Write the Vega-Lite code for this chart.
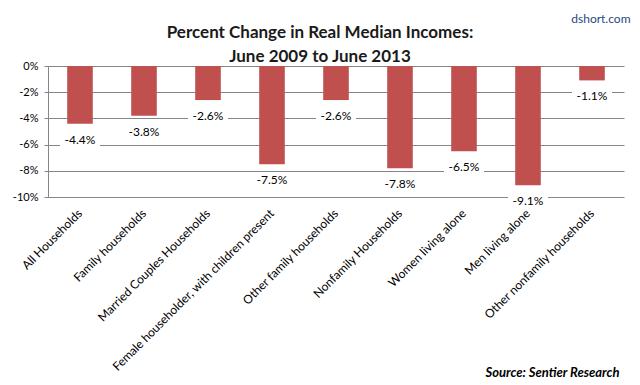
{
  "$schema": "https://vega.github.io/schema/vega-lite/v6.json",
  "width": 576,
  "height": 131,
  "autosize": {"type": "none"},
  "padding": {"left": 48, "top": 66, "right": 16, "bottom": 188},
  "background": "white",
  "config": {
    "font": "Lato",
    "view": {"stroke": null},
    "locale": {"number": {"decimal": ".", "thousands": ",", "grouping": [3], "currency": ["$", ""], "minus": "-"}}
  },
  "title": {
    "text": ["Percent Change in Real Median Incomes:", "June 2009 to June 2013"],
    "font": "Lato",
    "fontSize": 17,
    "fontWeight": "bold",
    "color": "#1a1a1a",
    "lineHeight": 24,
    "anchor": "middle",
    "dx": -16,
    "dy": 60,
    "offset": 6
  },
  "data": {
    "values": [
      {"category": "All Households", "change": -0.044},
      {"category": "Family households", "change": -0.038},
      {"category": "Married Couples Households", "change": -0.026},
      {"category": "Female householder, with children present", "change": -0.075},
      {"category": "Other family households", "change": -0.026},
      {"category": "Nonfamily Households", "change": -0.078},
      {"category": "Women living alone", "change": -0.065},
      {"category": "Men living alone", "change": -0.091},
      {"category": "Other nonfamily households", "change": -0.011}
    ]
  },
  "encoding": {
    "x": {
      "field": "category",
      "type": "nominal",
      "sort": null,
      "scale": {"paddingInner": 0.6, "paddingOuter": 0.3},
      "axis": {
        "title": "Source: Sentier Research",
        "titleFont": "Lato",
        "titleFontSize": 13,
        "titleFontWeight": "bold",
        "titleFontStyle": "italic",
        "titleColor": "#000000",
        "titleAlign": "right",
        "titleAnchor": null,
        "titleX": 571,
        "titleY": 175,
        "titleBaseline": "middle",
        "labelAngle": -45,
        "labelAlign": "right",
        "labelBaseline": "middle",
        "labelFontSize": 12,
        "labelColor": "#000000",
        "labelPadding": 14,
        "labelLimit": 400,
        "domain": false,
        "ticks": false,
        "grid": false
      }
    },
    "y": {
      "field": "change",
      "type": "quantitative",
      "scale": {"domain": [-0.1, 0], "nice": false},
      "axis": {
        "values": [0, -0.02, -0.04, -0.06, -0.08, -0.1],
        "format": ".0%",
        "title": "dshort.com",
        "titleAngle": 0,
        "titleAlign": "right",
        "titleBaseline": "middle",
        "titleX": 582,
        "titleY": -48,
        "titleFont": "Lato",
        "titleFontSize": 12,
        "titleFontWeight": "normal",
        "titleColor": "#1F497D",
        "labelFontSize": 11,
        "labelColor": "#000000",
        "labelPadding": 6,
        "domainColor": "#868686",
        "tickColor": "#868686",
        "tickSize": 4,
        "gridColor": "#868686",
        "gridOpacity": 1,
        "gridWidth": 1
      }
    }
  },
  "layer": [
    {"mark": {"type": "bar", "color": "#C0504D"}},
    {"mark": {"type": "tick", "color": "white", "opacity": 1, "thickness": 14, "size": 40, "yOffset": 16}},
    {"mark": {"type": "text", "dy": 16, "baseline": "middle", "fontSize": 12, "color": "#000000"},
     "encoding": {"text": {"field": "change", "type": "quantitative", "format": ".1%"}}}
  ]
}
